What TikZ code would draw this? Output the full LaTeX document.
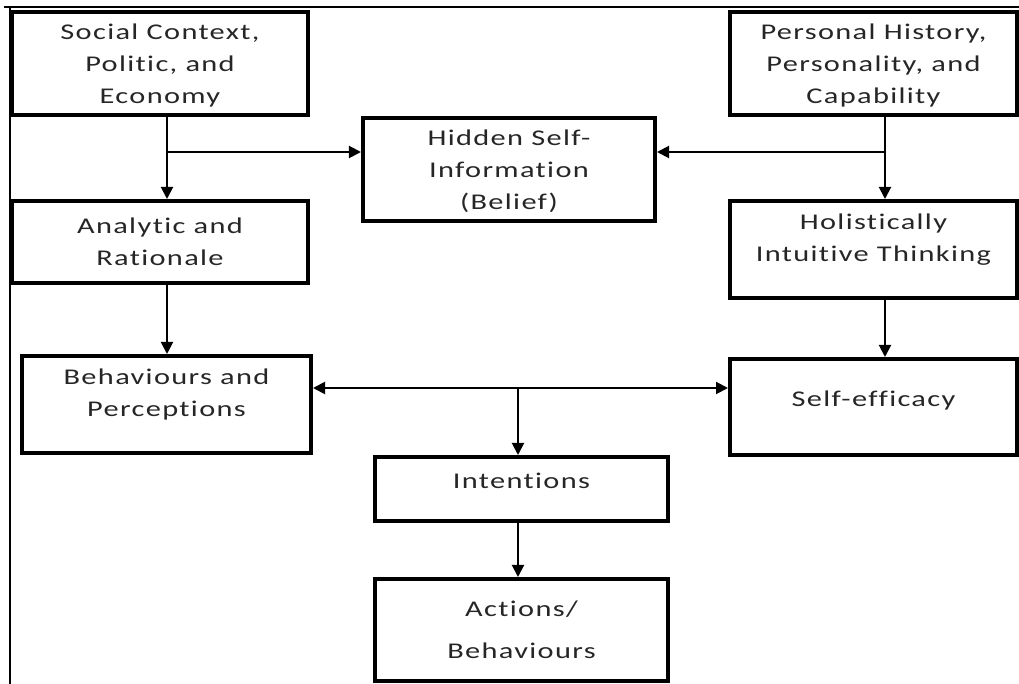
\documentclass[tikz,border=0pt]{standalone}
\usepackage{fontspec}
\setmainfont{Carlito}[FakeStretch=1.35,LetterSpace=6,Ligatures={NoCommon}]
\usetikzlibrary{arrows.meta}

\begin{document}
\begin{tikzpicture}[scale=0.25]
\tikzstyle{every node}+=[inner sep=0pt]
\tikzstyle{box}=[draw, line width=2.85pt, align=center, text=black!85, font=\fontsize{16}{22.8}\selectfont, execute at begin node={\rule{0pt}{17pt}}]
\tikzstyle{lift}=[text depth=0.6cm]
\tikzstyle{sink}=[text depth=-4pt]
\tikzstyle{arr}=[line width=1.4pt, -{Triangle[length=0.3cm,width=0.3cm]}]
\tikzstyle{frame}=[line width=1.4pt]
\useasboundingbox (0,0) rectangle (101.9,-68.4);
\draw [frame] (0.4,-0.7) -- (101.9,-0.7);
\draw [frame] (1.0,-0.7) -- (1.0,-68.4);
% boxes
\node [box, sink, minimum width=7.4cm, minimum height=2.575cm] (social) at (16.0,-6.35) {Social Context,\\Politic, and\\Economy};
\node [box, sink, minimum width=7.175cm, minimum height=2.575cm] (personal) at (87.35,-6.35) {Personal History,\\Personality, and\\Capability};
\node [box, sink, minimum width=7.3cm, minimum height=2.575cm] (hidden) at (50.9,-16.95) {Hidden Self-\\Information\\(Belief)};
\node [box, minimum width=7.4cm, minimum height=2.05cm] (analytic) at (16.0,-24.2) {Analytic and\\Rationale};
\node [box, lift, minimum width=7.175cm, minimum height=2.425cm] (holistic) at (87.35,-24.95) {Holistically\\Intuitive Thinking};
\node [box, lift, minimum width=7.225cm, minimum height=2.425cm] (behav) at (16.65,-40.45) {Behaviours and\\Perceptions};
\node [box, lift, minimum width=7.175cm, minimum height=2.4cm] (selfeff) at (87.35,-40.7) {Self-efficacy};
\node [box, lift, minimum width=7.325cm, minimum height=1.6cm] (intent) at (52.15,-48.9) {Intentions};
\node [box, minimum width=7.325cm, minimum height=2.55cm] (actions) at (52.15,-63.0) {Actions/\\[7pt]Behaviours};
% junctions
\coordinate (sj) at (16.7,-15.2);
\coordinate (pj) at (88.5,-15.2);
\coordinate (bj) at (51.8,-38.8);
% connectors
\draw [arr] (social.south -| sj) -- (analytic.north -| sj);
\draw [arr] (sj) -- (hidden.west |- sj);
\draw [arr] (personal.south -| pj) -- (holistic.north -| pj);
\draw [arr] (pj) -- (hidden.east |- pj);
\draw [arr] (analytic.south -| sj) -- (behav.north -| sj);
\draw [arr] (holistic.south -| pj) -- (selfeff.north -| pj);
\draw [arr, {Triangle[length=0.3cm,width=0.3cm]}-{Triangle[length=0.3cm,width=0.3cm]}] (behav.east |- bj) -- (selfeff.west |- bj);
\draw [arr] (bj) -- (intent.north -| bj);
\draw [arr] (intent.south -| bj) -- (actions.north -| bj);
\end{tikzpicture}
\end{document}
